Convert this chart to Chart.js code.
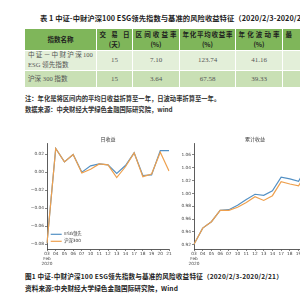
<!DOCTYPE html>
<html><head><meta charset="utf-8">
<script src="https://cdn.jsdelivr.net/npm/chart.js@4/dist/chart.umd.min.js"></script>
<style>
html,body{margin:0;padding:0;width:300px;height:300px;overflow:hidden;background:#fff;}
body{position:relative;font-family:"Noto Sans CJK SC",sans-serif;}
.t{position:absolute;white-space:nowrap;}
.bold{font-weight:bold;color:#222;}
.cell{position:absolute;box-sizing:border-box;display:flex;flex-direction:column;justify-content:center;overflow:hidden;}
.ln{line-height:10px;height:10px;white-space:nowrap;}
.just{display:flex;justify-content:space-between;}
canvas{position:absolute;}
</style>
</head><body>
<div class="t bold" style="left:40px;top:13px;font-size:7.3px;letter-spacing:0.06px;line-height:10px;">表 1 中证-中财沪深100 ESG领先指数与基准的风险收益特征（2020/2/3-2020/2/21）</div>
<div id="tbl"></div>
<div class="t bold" style="left:25px;top:94px;font-size:6.3px;line-height:10px;color:#333;">注：年化是将区间内的平均日收益折算至一年，日波动率折算至一年。</div>
<div class="t bold" style="left:25px;top:105px;font-size:6.3px;line-height:10px;color:#333;">数据来源：中央财经大学绿色金融国际研究院，wind</div>
<canvas id="c1" width="172" height="136" style="left:0px;top:132px;"></canvas>
<canvas id="c2" width="170" height="136" style="left:150px;top:132px;"></canvas>
<div class="t bold" style="left:25px;top:271px;font-size:6.6px;letter-spacing:0.18px;line-height:10px;">图1 中证-中财沪深100 ESG领先指数与基准的风险收益特征（2020/2/3-2020/2/21）</div>
<div class="t bold" style="left:25px;top:283px;font-size:6.6px;letter-spacing:0.1px;line-height:10px;">资料来源:中央财经大学绿色金融国际研究院，Wind</div>
<script>
// ---------- data ----------
const dates = [["03","Feb","2020"],"04","05","06","07","10","11","12","13","14","17","18","19","20","21"];
const seriesNames = ["ESG领先","沪深300"];
const esgDaily    = [-0.079, 0.0263, 0.0114, 0.0197, 0.0000, 0.0070, 0.0092, 0.0081, -0.0015, 0.0074, 0.0215, -0.0037, -0.0030, 0.0240, 0.0240];
const hs300Daily  = [-0.079, 0.0263, 0.0114, 0.0197, -0.0010, 0.0033, 0.0092, 0.0081, -0.0060, 0.0060, 0.0215, -0.0050, -0.0020, 0.0220, 0.0012];
const esgCum      = [0.921, 0.946, 0.956, 0.9736, 0.9747, 0.9816, 0.9907, 0.9987, 0.9971, 1.0040, 1.0253, 1.0227, 1.0189, 1.0430, 1.0710];
const hs300Cum    = [0.921, 0.946, 0.956, 0.9736, 0.9737, 0.9784, 0.9859, 0.9949, 0.9891, 0.9965, 1.0184, 1.0147, 1.0120, 1.0340, 1.0364];

const tableHeaders = [["指数名称"],["交 易 日","(天)"],["区 间 收 益 率","(%)"],["年化平均收益率","(%)"],["年 化 波 动 率","(%)"],["最 大 回 撤","(%)"]];
const indexNames   = [["中证－中财沪深 100","ESG 领先指数"],["沪深 300 指数"]];
const tradingDays  = ["15","15"];
const periodReturn = ["7.10","3.64"];
const annualReturn = ["123.74","67.58"];
const annualVol    = ["41.16","39.33"];
const maxDrawdown  = ["6.29","6.90"];

// ---------- table ----------
const colX = [25,97,133,180,236,283,340];
const rowY = [29,50.5,71,88];
const rowBg = ["#7fb65a","#e3efd9","#c9e0b5"];
function tokens(s){ return s.match(/[A-Za-z0-9.]+|[^\sA-Za-z0-9.]/g); }
function justLine(s, pad){
  const d=document.createElement('div'); d.className='ln just'; d.style.padding='0 '+pad+'px';
  tokens(s).forEach(tk=>{const sp=document.createElement('span'); sp.textContent=tk; d.appendChild(sp);});
  return d;
}
function plainLine(s, align, pad){
  const d=document.createElement('div'); d.className='ln'; d.textContent=s; d.style.textAlign=align; d.style.padding='0 '+pad+'px';
  return d;
}
const tbl=document.getElementById('tbl');
function cell(ci, ri){
  const c=document.createElement('div'); c.className='cell';
  c.style.left=colX[ci]+'px'; c.style.top=rowY[ri]+'px';
  c.style.width=(colX[ci+1]-colX[ci]-1)+'px'; c.style.height=(rowY[ri+1]-rowY[ri]-1)+'px';
  c.style.background=rowBg[ri];
  tbl.appendChild(c); return c;
}
tableHeaders.forEach((h,ci)=>{
  const c=cell(ci,0); c.style.fontWeight='bold'; c.style.fontSize='6.5px'; c.style.color='#1e1e1e';
  if(h.length===1){ c.appendChild(plainLine(h[0],'center',0)); }
  else { c.appendChild(justLine(h[0],2.5)); c.appendChild(plainLine(h[1],'center',0)); }
});
const bodyCols=[tradingDays,periodReturn,annualReturn,annualVol,maxDrawdown];
indexNames.forEach((nm,ri)=>{
  const c=cell(0,ri+1); c.style.fontFamily='"Liberation Serif","Noto Sans CJK SC",serif'; c.style.fontSize='6.6px'; c.style.color='#555';
  if(nm.length>1){ c.appendChild(justLine(nm[0],3)); c.appendChild(plainLine(nm[1],'left',3)); }
  else c.appendChild(plainLine(nm[0],'left',3));
  bodyCols.forEach((arr,k)=>{
    const v=cell(k+1,ri+1); v.style.fontFamily='"Liberation Serif",serif'; v.style.fontSize='7px'; v.style.color='#555';
    v.appendChild(plainLine(arr[ri],'center',0));
  });
});

// ---------- charts ----------
const BLUE='#5390c4', ORANGE='#eea04e', AX='#333';
const FONT='"DejaVu Sans","Noto Sans CJK SC",sans-serif';
function fmt(v){ if(Math.abs(v)<1e-9) return '0.00'; const s=Math.abs(v).toFixed(2); return (v<0?'\u2212':'')+s; }
const legendPlugin={id:'inLegend',afterDraw(chart){
  const o=chart.options.plugins.inLegend; if(!o||!o.show) return;
  const ctx=chart.ctx, ca=chart.chartArea; ctx.save();
  chart.data.datasets.forEach((ds,i)=>{
    const y=ca.bottom+o.dy+i*o.gap, x=ca.left+o.dx;
    ctx.strokeStyle=ds.borderColor; ctx.lineWidth=1.2; ctx.beginPath(); ctx.moveTo(x,y); ctx.lineTo(x+11,y); ctx.stroke();
    ctx.fillStyle='#333'; ctx.font='4.3px '+FONT; ctx.textBaseline='middle'; ctx.textAlign='left';
    ctx.fillText(ds.label,x+13.5,y);
  });
  ctx.restore();
}};
function makeChart(id,title,a,b,yMin,yMax,yW,padR,legend){
  return new Chart(document.getElementById(id),{
    type:'line',
    data:{labels:dates,datasets:[
      {label:seriesNames[0],data:a,borderColor:BLUE,borderWidth:1.2,pointRadius:0,tension:0,fill:false,order:1},
      {label:seriesNames[1],data:b,borderColor:ORANGE,borderWidth:1.2,pointRadius:0,tension:0,fill:false,order:0}
    ]},
    plugins:[legendPlugin],
    options:{
      responsive:false,animation:false,devicePixelRatio:1,
      layout:{padding:{left:0,right:padR,top:0,bottom:0}},
      plugins:{
        legend:{display:false},tooltip:{enabled:false},
        inLegend:{show:legend,dx:3.7,dy:-14.7,gap:7},
        title:{display:true,text:title,fullSize:false,color:'#333',font:{size:5,family:FONT,weight:'normal'},padding:{top:4.5,bottom:0.5}}
      },
      scales:{
        x:{type:'category',offset:false,
          grid:{drawOnChartArea:false,drawTicks:true,tickLength:2,color:AX,lineWidth:0.6},
          border:{display:true,color:AX,width:0.8},
          ticks:{autoSkip:false,maxRotation:0,minRotation:0,padding:0,color:'#444',font:{size:4.3,family:FONT,lineHeight:1.18}},
          afterFit:s=>{s.height=19;}},
        y:{type:'linear',min:yMin,max:yMax,
          grid:{drawOnChartArea:false,drawTicks:true,tickLength:2,color:AX,lineWidth:0.6},
          border:{display:true,color:AX,width:0.8},
          ticks:{stepSize:0.02,includeBounds:false,padding:1,color:'#444',font:{size:4.3,family:FONT},callback:v=>fmt(v)},
          afterFit:s=>{s.width=yW;}}
      }
    }
  });
}
makeChart('c1','日收益',esgDaily,hs300Daily,-0.0854,0.0324,47,3,true);
makeChart('c2','累计收益',esgCum,hs300Cum,0.9135,1.0785,44,4,false);
</script>
</body></html>
